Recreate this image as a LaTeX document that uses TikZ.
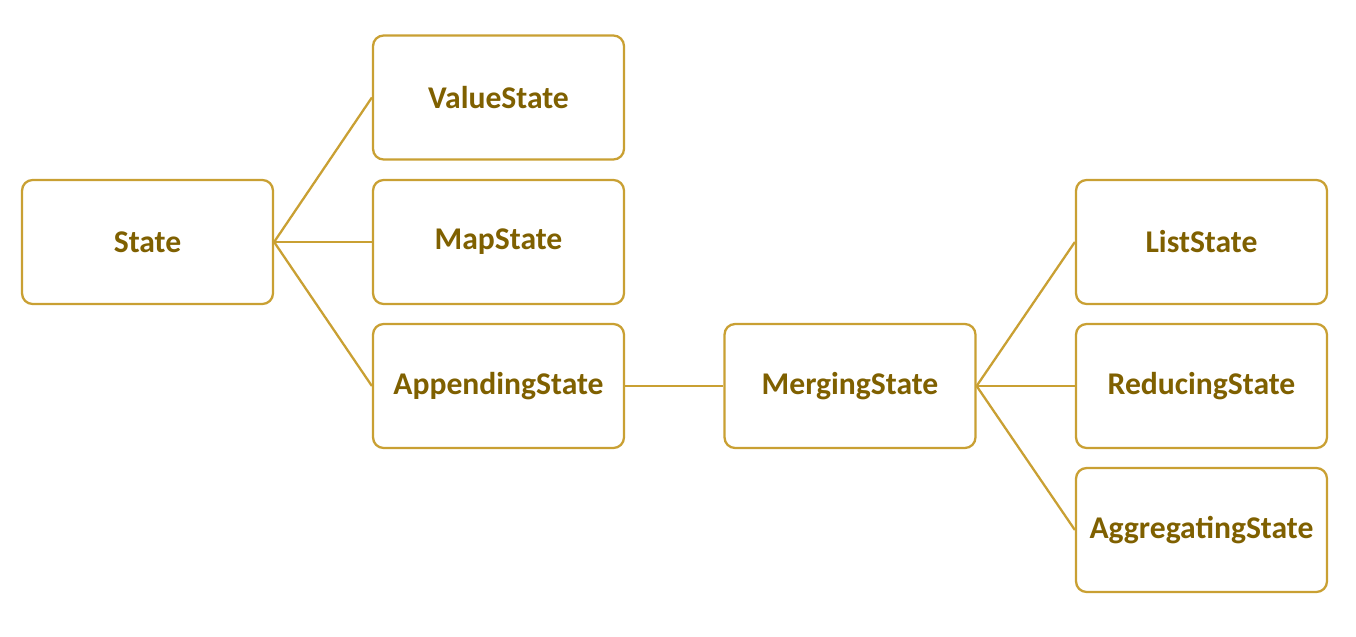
\documentclass[tikz,border=0pt]{standalone}
\usepackage{fontspec}
\setmainfont{Carlito}
\definecolor{gold}{HTML}{C9A033}
\definecolor{olive}{HTML}{7F6000}
\tikzset{
  statebox/.style={draw=gold, line width=1.3pt, rounded corners=6pt, fill=white,
    minimum width=5.02cm, minimum height=2.48cm, text=olive,
    font=\fontsize{18}{21}\selectfont\bfseries},
  link/.style={draw=gold, line width=1.3pt}
}
\begin{document}
\begin{tikzpicture}[x=0.02cm, y=-0.02cm]
  \useasboundingbox (0,0) rectangle (1356,636);
  \draw
    (147.5,242) node[statebox] (state){State}
    (498.5,97.5) node[statebox] (value){ValueState}
    (498.5,242) node[statebox] (map){MapState}
    (498.5,386) node[statebox] (append){AppendingState}
    (850,386) node[statebox] (merge){MergingState}
    (1201.5,242) node[statebox] (list){ListState}
    (1201.5,386) node[statebox] (reduce){ReducingState}
    (1201.5,530) node[statebox] (aggr){AggregatingState};
  \begin{scope}[link]
    \draw (state.east) to (value.west);
    \draw (state.east) to (map.west);
    \draw (state.east) to (append.west);
    \draw (append.east) to (merge.west);
    \draw (merge.east) to (list.west);
    \draw (merge.east) to (reduce.west);
    \draw (merge.east) to (aggr.west);
  \end{scope}
\end{tikzpicture}
\end{document}
